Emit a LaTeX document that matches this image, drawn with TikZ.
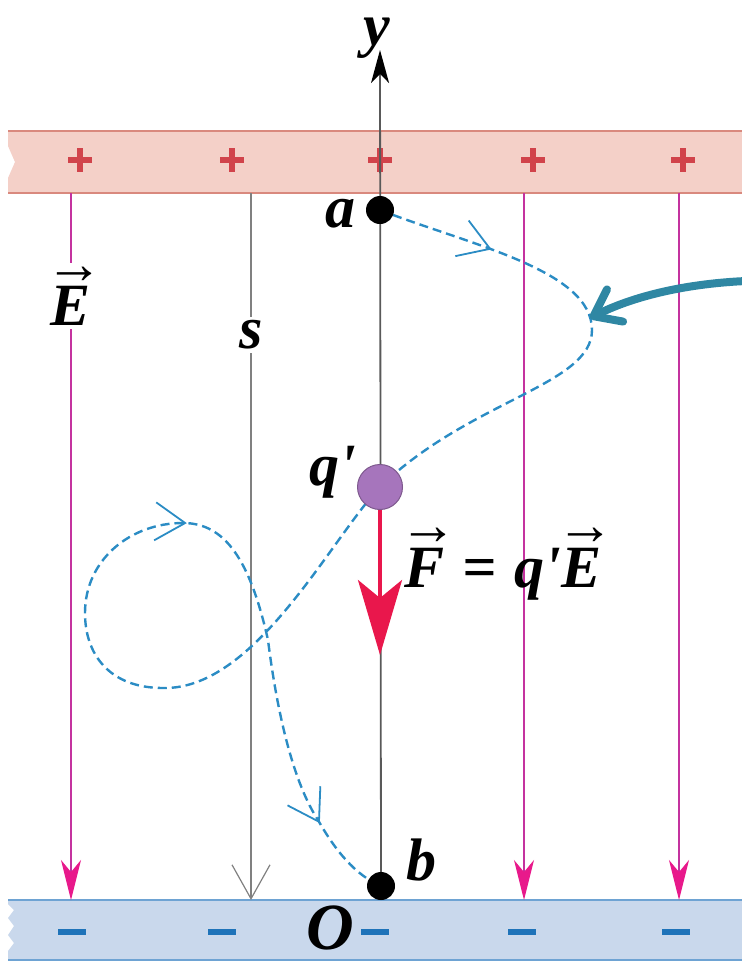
\documentclass[tikz,border=0pt]{standalone}
\usepackage{fontspec}
\setmainfont{Liberation Serif}
\usetikzlibrary{arrows.meta,decorations.markings,backgrounds}

\definecolor{posfill}{HTML}{F4D0C8}
\definecolor{posedge}{HTML}{D9897E}
\definecolor{possign}{HTML}{D1434B}
\definecolor{negfill}{HTML}{C9D8EC}
\definecolor{negedge}{HTML}{6EA3D3}
\definecolor{negsign}{HTML}{1E73B9}
\definecolor{fieldcol}{HTML}{C4329F}
\definecolor{fieldtip}{HTML}{E8198B}
\definecolor{trajcol}{HTML}{2B8CC4}
\definecolor{pointcol}{HTML}{2F87A3}
\definecolor{forcecol}{HTML}{E9174C}
\definecolor{chargecol}{HTML}{A675BC}

% letter with an arrow above it
\newcommand{\vecarrow}{{\fontsize{58}{58}\selectfont\mdseries\upshape\char"2192}}
\newcommand{\vect}[1]{\leavevmode\setbox0\hbox{#1}\vbox{\offinterlineskip\halign{##\cr
  \hbox to\wd0{\hss\vecarrow\hss\kern-8pt}\cr\noalign{\kern3pt}\box0\cr}}}

\tikzset{
  lbl/.style={font=\fontsize{60}{62}\selectfont\bfseries\itshape, inner sep=1pt},
  dot/.style={circle, fill=black, minimum size=28pt, inner sep=0pt},
  charge/.style={circle, fill=chargecol, draw=chargecol!75!black, line width=1pt, minimum size=45pt, inner sep=0pt},
  fieldline/.style={fieldcol, line width=1.3pt, -{Stealth[length=40pt, width=20pt, inset=12pt, color=fieldtip]}},
  sline/.style={gray, line width=1.2pt, -{Straight Barb[length=34pt, width=38pt, line width=1.2pt]}},
  axis/.style={black!65, line width=1.8pt, -{Stealth[length=33pt, width=18pt, inset=9pt, color=black]}},
  traj/.style={trajcol, line width=2.4pt, dash pattern=on 9pt off 5pt,
    postaction={decorate},
    decoration={markings,
      mark=at position 0.077 with {\arrow{Straight Barb[length=30pt, width=38pt, line width=1.8pt]}},
      mark=at position 0.718 with {\arrow{Straight Barb[length=30pt, width=38pt, line width=1.8pt]}},
      mark=at position 0.942 with {\arrow{Straight Barb[length=30pt, width=38pt, line width=1.8pt]}}}},
  force/.style={forcecol, line width=4pt, -{Stealth[length=75pt, width=44pt, inset=18pt]}},
  pointer/.style={pointcol, line width=8pt, -{Straight Barb[length=24pt, width=36pt, round]}},
}

\begin{document}
\begin{tikzpicture}[x=1pt, y=-1pt]
\useasboundingbox (0,0) rectangle (742,962);

% charges on the path
\node[dot] (a) at (380,210) {};
\node[dot] (b) at (381,886) {};
\node[charge] (q) at (380,487) {};

\coordinate (ytop) at (380,50);
\coordinate (ftip) at (380,655);
\coordinate (pstart) at (746,281);
\coordinate (ptip) at (590,318);

\begin{scope}[on background layer]
% plates
\fill[posfill] (8,131) -- (742,131) -- (742,193) -- (8,193) -- (8,178) -- (15,162) -- (8,146) -- cycle;
\draw[posedge, line width=2pt] (8,131) -- (742,131) (8,193) -- (742,193);
\fill[negfill] (8,900) -- (742,900) -- (742,960) -- (8,960) -- (8,951) -- (14,943) -- (8,935)
  -- (14,926) -- (8,918) -- (14,910) -- (8,904) -- cycle;
\draw[negedge, line width=2pt] (8,900) -- (742,900) (8,960) -- (742,960);
\foreach \x in {80,232,380,533,683}
  \draw[possign, line width=6pt] (\x-12,160) -- (\x+12,160) (\x,148) -- (\x,172);
\foreach \x in {72,222,375,522,676}
  \draw[negsign, line width=6pt] (\x-14,932) -- (\x+14,932);

% field lines
\foreach \x in {71,524,679}
  \draw[fieldline] (\x,193) -- (\x,900);
\draw[sline] (251,193) -- (251,900);

% y axis
\draw[axis] (b.center) -- (ytop);

% path from a to b
\draw[traj] (a.center) .. controls (470,245) and (592,270) .. (592,330)
  .. controls (592,385) and (470,400) .. (q.center)
  .. controls (330,540) and (255,690) .. (163,688)
  .. controls (110,688) and (85,655) .. (85,613)
  .. controls (85,560) and (130,523) .. (183,523)
  .. controls (225,523) and (250,560) .. (268,640)
  .. controls (278,720) and (295,785) .. (318,820)
  .. controls (335,850) and (355,875) .. (b.center);

% force on q'
\draw[force] (q.south) -- (ftip);
\end{scope}

\draw[pointer] (pstart) .. controls (680,284) and (630,298) .. (ptip);

% labels
\node[lbl] (ylbl) at (377,38) {y};
\node[lbl] (albl) at (340,214) {a};
\node[lbl] (qlbl) at (333,472) {q\textquotesingle};
\node[lbl] (blbl) at (421,860) {b};
\node[lbl, font=\fontsize{66}{68}\selectfont\bfseries\itshape] (olbl) at (330,928) {O};
\node[lbl, fill=white, inner sep=4pt] (elbl) at (71,296) {\vect{E}};
\node[lbl, fill=white, inner sep=4pt] (slbl) at (251,335) {s};
\node[lbl, anchor=base west] (flbl) at (403,587) {\vect{F}\hspace{18pt}=\hspace{18pt}q\textquotesingle\vect{E}};
\end{tikzpicture}
\end{document}
